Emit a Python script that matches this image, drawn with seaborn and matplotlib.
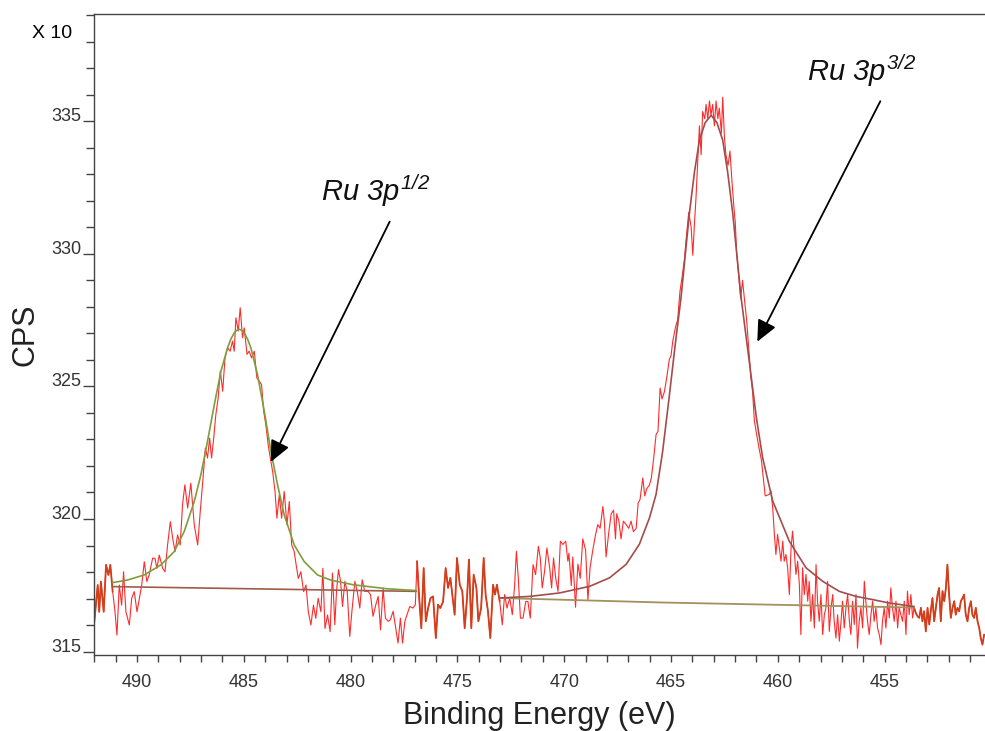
import numpy as np
import pandas as pd
import matplotlib
matplotlib.use("Agg")
import matplotlib.pyplot as plt
from matplotlib.ticker import MultipleLocator, FixedLocator
import seaborn as sns

# ---------------- data (binding energy in eV, CPS x10) -------------
be_a = [492.00, 491.84, 491.77, 491.69, 491.56, 491.45, 491.34, 491.25, 491.14, 491.03,
        490.94, 490.83, 490.72, 490.63, 490.52, 490.36, 490.25, 490.13, 490.00, 489.89,
        489.78, 489.66, 489.54, 489.43, 489.27, 489.16, 489.07, 488.96, 488.80, 488.69,
        488.57, 488.44, 488.33, 488.22, 488.10, 487.98, 487.87, 487.76, 487.63, 487.48,
        487.32, 487.16, 487.04, 486.91, 486.80, 486.70, 486.60, 486.51, 486.41, 486.31,
        486.20, 486.10, 485.99, 485.88, 485.76, 485.64, 485.53, 485.45, 485.37, 485.26,
        485.17, 485.06, 484.98, 484.85, 484.75, 484.64, 484.51, 484.39, 484.28, 484.17,
        484.07, 483.97, 483.86, 483.76, 483.65, 483.54, 483.45, 483.34, 483.23, 483.11,
        482.98, 482.87, 482.76, 482.64, 482.55, 482.45, 482.33, 482.20, 482.09, 481.98,
        481.86, 481.74, 481.63, 481.52, 481.39, 481.30, 481.20, 481.08, 480.96]
cps_a = [316.12, 317.51, 316.50, 317.64, 316.50, 318.27, 317.89, 318.27, 317.26, 316.50,
         315.62, 317.51, 316.75, 318.01, 316.50, 316.00, 317.01, 317.26, 316.50, 317.01,
         317.51, 318.39, 317.64, 317.89, 318.52, 318.52, 318.14, 318.64, 318.14, 318.01,
         319.02, 319.90, 319.27, 318.77, 319.40, 319.02, 320.53, 321.29, 320.41, 321.35,
         319.78, 319.02, 320.28, 321.54, 322.68, 322.30, 323.05, 322.30, 323.05, 323.94,
         324.57, 325.58, 324.82, 326.08, 326.46, 326.33, 326.71, 326.33, 327.59, 327.09,
         327.97, 326.84, 327.21, 326.21, 326.33, 326.08, 326.33, 325.32, 325.20, 325.07,
         324.06, 323.56, 322.80, 322.30, 321.79, 321.04, 320.03, 320.91, 320.03, 321.04,
         319.78, 320.66, 319.02, 318.77, 318.27, 317.76, 318.01, 317.26, 317.51, 316.50,
         316.00, 316.75, 316.25, 317.01, 316.50, 318.14, 315.87, 316.38, 315.75]

be_b = [480.85, 480.74, 480.66, 480.57, 480.47, 480.38, 480.27, 480.16, 480.04, 479.94,
        479.80, 479.69, 479.57, 479.46, 479.34, 479.18, 479.07, 478.95, 478.82, 478.71,
        478.60, 478.48, 478.37, 478.24, 478.14, 478.01, 477.89, 477.78, 477.67, 477.57,
        477.46, 477.36, 477.23, 477.08, 476.97, 476.89, 476.79, 476.69, 476.58, 476.48,
        476.37, 476.26, 476.14, 476.01, 475.91, 475.80, 475.67, 475.55, 475.44, 475.33,
        475.24, 475.13, 475.02, 474.89, 474.77, 474.66, 474.55, 474.46, 474.35, 474.24,
        474.11, 474.02, 473.89, 473.77, 473.68, 473.57, 473.46, 473.33, 473.24, 473.15,
        473.02, 472.90, 472.79, 472.68, 472.55, 472.43, 472.32, 472.24, 472.15, 472.05,
        471.93, 471.80, 471.70, 471.59, 471.46, 471.34, 471.21, 471.12, 471.03, 470.92,
        470.81, 470.68, 470.59, 470.50, 470.40, 470.29, 470.18, 470.06, 469.93, 469.83]
cps_b = [317.96, 316.01, 317.27, 318.09, 317.65, 316.70, 317.65, 317.27, 315.57, 316.52,
         317.65, 317.27, 316.64, 317.71, 317.27, 317.27, 317.15, 316.33, 316.77, 317.08,
         315.82, 317.40, 316.26, 316.14, 316.20, 316.52, 315.88, 315.32, 316.26, 315.32,
         316.14, 316.39, 316.70, 316.64, 316.77, 318.41, 317.02, 315.88, 318.15, 316.14,
         316.64, 317.02, 317.08, 315.51, 316.77, 316.64, 316.89, 318.15, 317.40, 317.78,
         317.15, 316.39, 318.53, 317.52, 317.27, 315.88, 317.02, 318.47, 315.88, 317.90,
         317.40, 316.14, 316.64, 318.53, 317.15, 316.52, 315.51, 317.52, 317.15, 317.52,
         316.89, 316.01, 317.15, 316.64, 317.02, 316.39, 317.52, 318.78, 317.78, 316.26,
         316.26, 316.89, 316.89, 316.26, 318.28, 317.90, 318.97, 318.53, 317.40, 318.03,
         318.91, 318.15, 317.40, 318.53, 317.78, 317.27, 319.16, 319.04, 319.16, 318.41]

be_c = [469.78, 469.67, 469.60, 469.47, 469.36, 469.25, 469.13, 469.00, 468.89, 468.79,
        468.66, 468.54, 468.43, 468.32, 468.19, 468.12, 468.04, 467.91, 467.80, 467.69,
        467.60, 467.54, 467.44, 467.34, 467.23, 467.10, 466.98, 466.87, 466.76, 466.63,
        466.54, 466.45, 466.32, 466.23, 466.14, 466.01, 465.92, 465.82, 465.70, 465.61,
        465.51, 465.42, 465.31, 465.20, 465.08, 465.00, 464.92, 464.79, 464.69, 464.58,
        464.48, 464.37, 464.30, 464.17, 464.06, 463.98, 463.91, 463.83, 463.75, 463.67,
        463.59, 463.52, 463.42, 463.36, 463.28, 463.20, 463.13, 463.05, 462.97, 462.89,
        462.81, 462.74, 462.64, 462.58, 462.50, 462.43, 462.33, 462.24, 462.14, 462.05,
        461.99, 461.93, 461.83, 461.74, 461.65, 461.55, 461.46, 461.36, 461.26, 461.18,
        461.10, 460.99, 460.87, 460.77, 460.68, 460.59]
cps_c = [318.71, 317.49, 318.57, 316.67, 318.30, 317.76, 319.25, 318.84, 316.94, 318.16,
         318.84, 319.38, 319.79, 319.65, 320.47, 319.92, 318.57, 319.52, 320.20, 320.33,
         319.25, 320.20, 319.92, 319.25, 319.92, 319.79, 319.65, 319.92, 319.52, 319.65,
         320.60, 320.74, 321.55, 320.87, 321.14, 321.28, 321.55, 322.23, 323.18, 323.31,
         324.94, 324.53, 324.80, 325.34, 326.02, 326.16, 326.70, 327.24, 327.51, 328.59,
         329.14, 329.81, 330.49, 331.57, 331.03, 329.95, 331.03, 332.12, 333.47, 334.83,
         333.74, 335.37, 335.10, 335.64, 335.10, 335.77, 335.23, 335.64, 334.83, 335.77,
         335.10, 335.50, 334.55, 335.91, 334.42, 333.74, 333.34, 333.88, 332.66, 331.71,
         331.17, 330.08, 329.14, 328.32, 329.00, 328.19, 327.51, 326.43, 325.34, 324.80,
         323.72, 323.18, 322.63, 322.23, 321.55, 320.87]

be_d = [460.40, 460.32, 460.24, 460.16, 460.09, 460.01, 459.93, 459.85, 459.77, 459.70,
        459.62, 459.54, 459.46, 459.38, 459.31, 459.23, 459.15, 459.07, 458.99, 458.92,
        458.84, 458.76, 458.68, 458.60, 458.53, 458.45, 458.37, 458.29, 458.21, 458.14,
        458.06, 457.98, 457.90, 457.82, 457.75, 457.67, 457.59, 457.51, 457.43, 457.36,
        457.28, 457.20, 457.12, 457.04, 456.97, 456.89, 456.81, 456.73, 456.65, 456.58,
        456.50, 456.42, 456.34, 456.27, 456.19, 456.11, 456.03, 455.95, 455.88, 455.80,
        455.72, 455.64, 455.56, 455.49, 455.41, 455.33, 455.25, 455.17, 455.10, 455.02,
        454.94, 454.86, 454.78, 454.71, 454.63, 454.55, 454.47, 454.39, 454.32, 454.24,
        454.16, 454.08, 454.00, 453.93, 453.85, 453.77, 453.69, 453.62, 453.54, 453.46,
        453.38, 453.30, 453.23, 453.15, 453.07, 452.99, 452.91, 452.84, 452.76, 452.68,
        452.60, 452.52, 452.45, 452.37, 452.29, 452.21, 452.13, 452.06, 451.98, 451.90,
        451.82, 451.74, 451.67, 451.59, 451.51, 451.43, 451.35, 451.28, 451.20, 451.12,
        451.04, 450.96, 450.89, 450.81, 450.73, 450.65, 450.57, 450.50, 450.42, 450.34]
cps_d = [320.93, 321.06, 320.43, 319.42, 318.66, 319.42, 318.91, 318.41, 319.17, 318.41,
         318.66, 318.16, 317.15, 318.91, 319.54, 318.79, 317.91, 318.41, 317.53, 315.64,
         318.16, 317.15, 317.91, 316.90, 317.65, 316.14, 317.15, 315.89, 318.28, 316.90,
         316.14, 317.15, 315.64, 316.39, 316.65, 317.65, 315.76, 316.65, 317.15, 316.14,
         315.51, 316.39, 315.39, 316.14, 316.90, 315.89, 316.65, 317.15, 316.14, 315.64,
         316.90, 316.02, 317.15, 315.13, 316.14, 316.65, 315.89, 317.65, 316.90, 316.14,
         315.64, 316.39, 316.90, 316.14, 316.65, 315.89, 315.64, 315.26, 316.14, 316.65,
         315.89, 316.90, 316.27, 317.40, 316.65, 316.14, 316.90, 315.89, 316.65, 316.39,
         316.14, 316.90, 315.64, 317.28, 316.39, 317.15, 316.27, 316.65, 316.46, 316.33,
         316.27, 316.65, 316.14, 316.52, 315.76, 316.65, 316.02, 316.52, 317.02, 316.14,
         316.65, 317.15, 317.40, 316.14, 317.28, 316.90, 317.40, 318.28, 317.15, 316.27,
         316.65, 316.90, 316.39, 316.65, 316.52, 316.90, 317.02, 317.15, 316.39, 316.14,
         316.65, 316.90, 316.39, 316.27, 316.65, 316.14, 315.89, 315.51, 315.26, 315.64]

# Ru 3p1/2 fitted envelope (green)
fit1_be = [491.14, 490.44, 489.66, 488.88, 488.26, 487.79, 487.32, 487.01, 486.70, 486.38,
           486.07, 485.76, 485.60, 485.45, 485.33, 485.21, 485.10, 484.98, 484.82, 484.67,
           484.36, 484.04, 483.73, 483.42, 483.11, 482.64, 482.17, 481.55, 480.95, 479.88,
           478.32, 476.92]
fit1_cps = [317.60, 317.70, 317.89, 318.27, 318.77, 319.53, 320.66, 321.67, 322.93, 324.32,
            325.58, 326.46, 326.80, 327.02, 327.12, 327.16, 327.12, 327.02, 326.78, 326.46,
            325.45, 324.06, 322.55, 321.29, 320.16, 319.02, 318.39, 317.89, 317.70, 317.52,
            317.37, 317.30]
# Ru 3p3/2 fitted envelope (brown)
fit2_be = [473.02, 471.62, 470.22, 468.81, 467.88, 467.10, 466.48, 466.01, 465.70, 465.40,
           465.10, 464.80, 464.53, 464.14, 463.90, 463.67, 463.40, 463.12, 462.85, 462.58,
           462.35, 462.11, 461.72, 461.33, 461.00, 460.71, 460.24, 459.46, 458.68, 457.90,
           457.12, 456.34, 455.56, 454.78, 453.62]
fit2_cps = [317.02, 317.08, 317.21, 317.46, 317.78, 318.29, 319.05, 320.04, 320.93, 322.50,
            324.50, 326.60, 328.36, 331.53, 333.10, 334.29, 334.95, 335.23, 334.95, 334.29,
            333.10, 331.53, 328.36, 325.90, 323.80, 322.31, 320.68, 319.16, 318.16, 317.65,
            317.27, 317.08, 316.96, 316.83, 316.70]
# backgrounds
bg1_be = [491.14, 476.92]
bg1_cps = [317.45, 317.27]
bg2_be = [473.02, 465.40, 453.62]
bg2_cps = [317.02, 316.85, 316.66]

y_ticks = [315, 320, 325, 330, 335]
x_ticks = [490, 485, 480, 475, 470, 465, 460, 455]

labels = {"p12": r"$Ru\ 3p^{1/2}$", "p32": r"$Ru\ 3p^{3/2}$"}
label_pos = {"p12": (481.40, 331.98), "p32": (458.62, 336.52)}
arrows = {"p12": ((478.17, 331.22), (483.74, 322.15)),
          "p32": ((455.20, 335.76), (460.96, 326.69))}

# ---------------------------------------------------------------------------------
sns.set_style("ticks")
plt.rcParams["font.family"] = ["Liberation Sans", "DejaVu Sans"]
plt.rcParams["mathtext.fontset"] = "custom"
plt.rcParams["mathtext.it"] = "Liberation Sans:italic"
plt.rcParams["mathtext.rm"] = "Liberation Sans:italic"

spec = pd.DataFrame({"be": be_a + be_b + be_c + be_d,
                     "cps": cps_a + cps_b + cps_c + cps_d})
fit1 = pd.DataFrame({"be": fit1_be, "cps": fit1_cps})
fit2 = pd.DataFrame({"be": fit2_be, "cps": fit2_cps})
bg1 = pd.DataFrame({"be": bg1_be, "cps": bg1_cps})
bg2 = pd.DataFrame({"be": bg2_be, "cps": bg2_cps})

fig = plt.figure(figsize=(9.85, 7.31), dpi=100)
ax = fig.add_axes([94.3 / 985, 1 - 655 / 731, (985 - 94.3) / 985, (655 - 14) / 731])

kw = dict(x="be", y="cps", sort=False, estimator=None, ax=ax)
sns.lineplot(data=spec, color="#ff2b2b", lw=0.8, **kw)
# outside the fitted windows the trace looks darker
dark = "#d0401c"
for lo, hi in [(491.10, 493.0), (472.98, 476.95), (449.0, 453.63)]:
    seg = spec[(spec.be >= lo) & (spec.be <= hi)]
    sns.lineplot(data=seg, color=dark, lw=1.3, **kw)

sns.lineplot(data=bg1, color="#a05a4a", lw=1.2, **kw)
sns.lineplot(data=bg2, color="#a2905e", lw=1.3, **kw)
sns.lineplot(data=fit1, color="#7e9d3c", lw=1.2, **kw)
sns.lineplot(data=fit2, color="#a44c4c", lw=1.2, **kw)

ax.set_xlim(492, 450.3)
ax.set_ylim(314.87, 339.05)

ax.xaxis.set_major_locator(FixedLocator(x_ticks))
ax.xaxis.set_minor_locator(MultipleLocator(1))
ax.yaxis.set_major_locator(FixedLocator(y_ticks))
ax.yaxis.set_minor_locator(MultipleLocator(1))
ax.tick_params(axis="x", which="both", direction="out", length=4.8, width=1.0,
               color="#444444", labelsize=13, labelcolor="#333333", pad=9)
ax.tick_params(axis="y", which="major", direction="out", length=8, width=1.0,
               color="#444444", labelsize=13, labelcolor="#333333", pad=1)
ax.tick_params(axis="y", which="minor", direction="out", length=5.8, width=1.0,
               color="#444444")
ax.set_yticklabels([str(v) for v in y_ticks])
for lab in ax.get_yticklabels():
    lab.set_verticalalignment("baseline")

for s in ["left", "top", "bottom"]:
    ax.spines[s].set_color("#444444")
    ax.spines[s].set_linewidth(1.0)
ax.spines["right"].set_visible(False)

ax.set_xlabel("Binding Energy (eV)", fontsize=22, color="#222222", labelpad=7)
ax.set_ylabel("CPS", fontsize=22, color="#222222", labelpad=8)

fig.text(32 / 985, 1 - 38 / 731, "X 10", fontsize=14, color="black", va="baseline")

for k in ["p12", "p32"]:
    ax.text(*label_pos[k], labels[k], fontsize=21, color="#111111", va="baseline", ha="left")
    start, tip = arrows[k]
    ax.annotate("", xy=tip, xytext=start,
                arrowprops=dict(arrowstyle="-|>,head_length=0.65,head_width=0.3",
                                mutation_scale=20, color="black", lw=1.3,
                                shrinkA=0, shrinkB=0))

fig.savefig("out.png", dpi=100)
